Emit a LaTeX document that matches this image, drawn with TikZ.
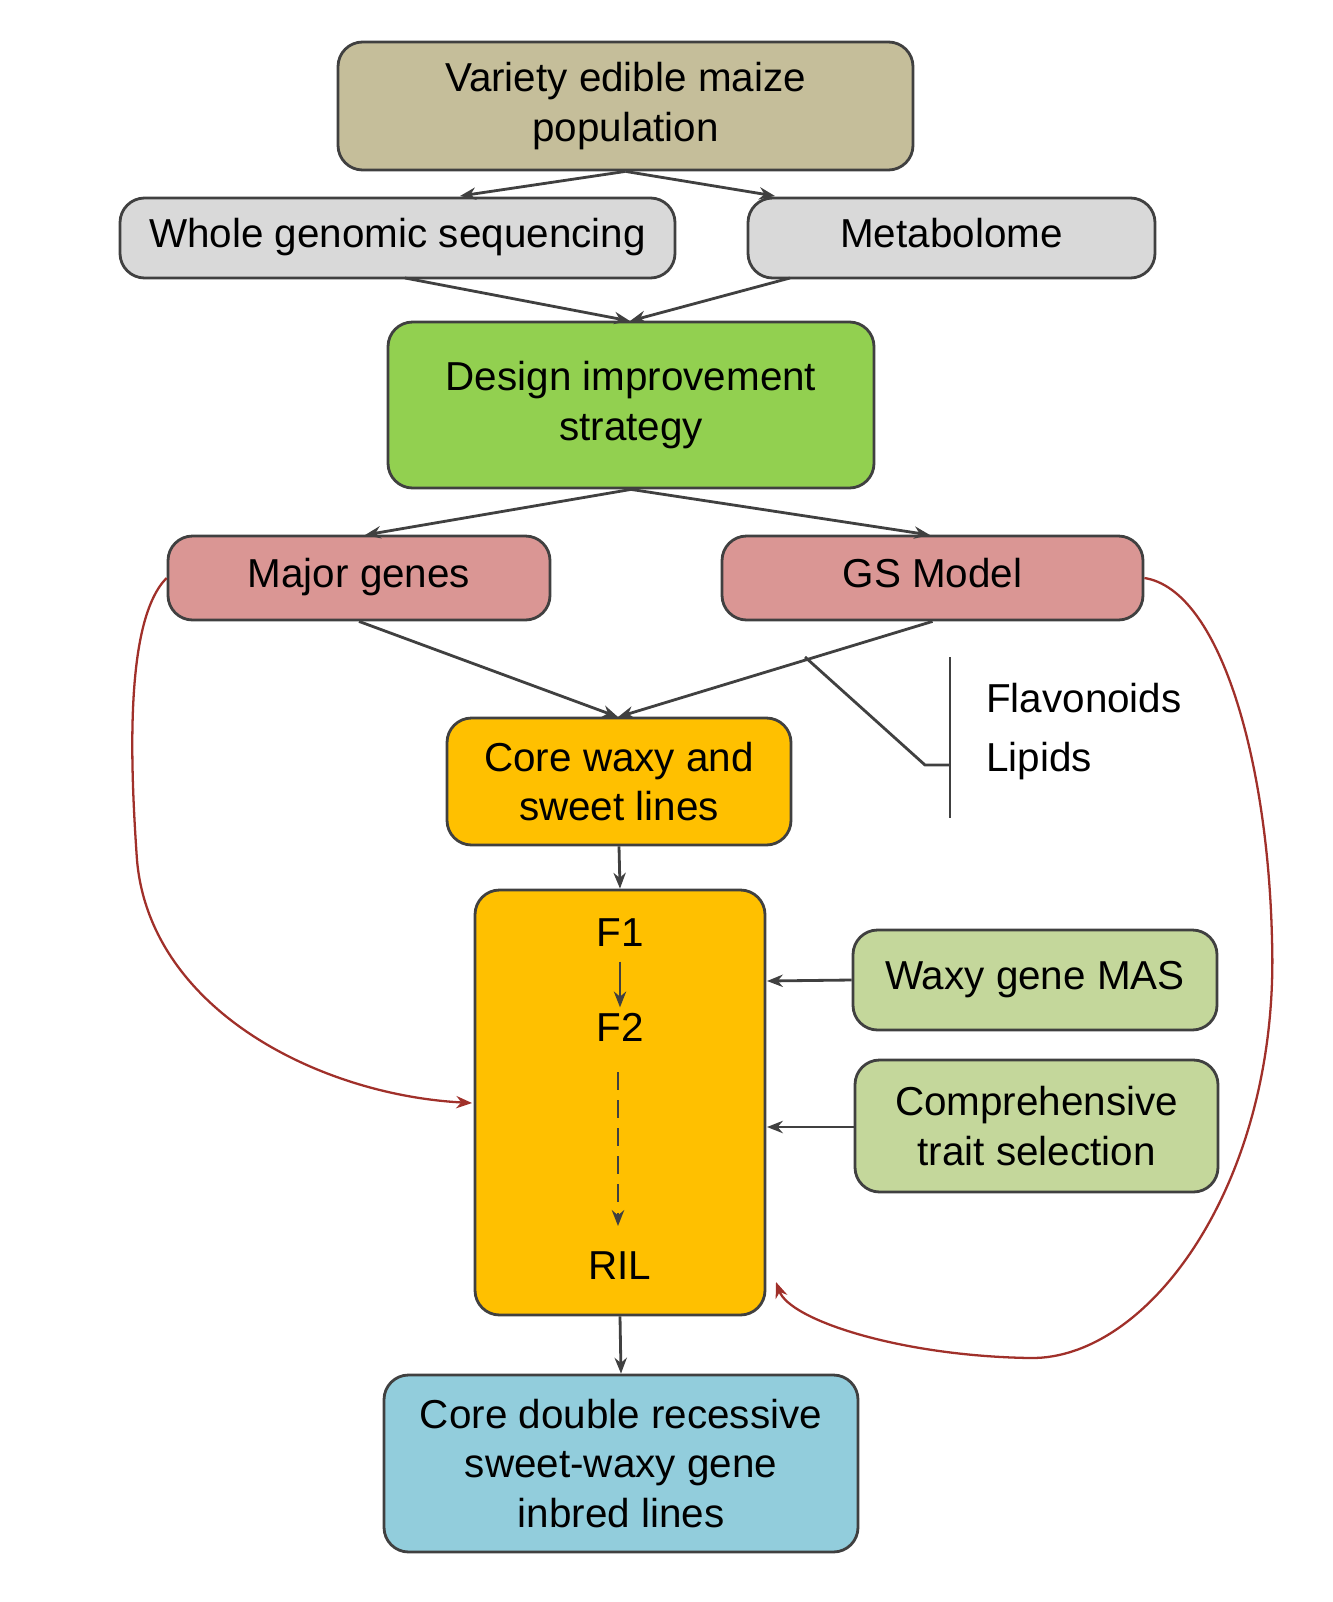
\documentclass[tikz,border=0pt]{standalone}
\usepackage{fontspec}
\setmainfont{Liberation Sans}
\usetikzlibrary{arrows.meta}
\definecolor{tan}{HTML}{C5BE9A}
\definecolor{gr}{HTML}{D9D9D9}
\definecolor{grn}{HTML}{92D050}
\definecolor{pk}{HTML}{DA9694}
\definecolor{org}{HTML}{FFC000}
\definecolor{lg}{HTML}{C4D79B}
\definecolor{bl}{HTML}{92CDDC}
\definecolor{rd}{HTML}{A0302A}
\begin{document}
\begin{tikzpicture}[x=0.02cm,y=-0.02cm,
 box/.style={draw=black!75,line width=1.6pt,rounded corners=14pt,align=center,inner sep=0pt,font=\fontsize{23}{28}\selectfont},
 ar/.style={draw=black!75,line width=1.6pt,-{Stealth[length=9pt,width=7pt]}},
 rar/.style={draw=rd,line width=1.3pt,-{Stealth[length=9pt,width=7pt]}},
 txt/.style={font=\fontsize{23}{28}\selectfont},
 one/.style={txt,text height=16pt,text depth=5pt}]
\useasboundingbox (0,0) rectangle (1332,1602);
\newcommand{\bx}[6]{\node[box,fill=#2,minimum width={(#5-#3)*0.02cm},minimum height={(#6-#4)*0.02cm}] (#1) at ({(#3+#5)/2},{(#4+#6)/2}) {};}
\bx{top}{tan}{338}{42}{913}{170}
\node[txt,align=center] at (top) {Variety edible maize\\population};
\bx{wgs}{gr}{120}{198}{675}{278}
\node[one] at (wgs) {Whole genomic sequencing};
\bx{met}{gr}{748}{198}{1155}{278}
\node[one] at (met) {Metabolome};
\bx{des}{grn}{388}{322}{874}{488}
\node[txt,align=center] at (des) {Design improvement\\strategy};
\bx{maj}{pk}{168}{536}{550}{620}
\node[one] at (maj) {Major genes};
\bx{gs}{pk}{722}{536}{1143}{620}
\node[one] at (gs) {GS Model};
\bx{core}{org}{447}{718}{791}{845}
\node[txt,align=center] at (core) {Core waxy and\\sweet lines};
\bx{big}{org}{475}{890}{765}{1315}
\node[one] (f1) at (620,937) {F1};
\node[one] (f2) at (620,1032) {F2};
\node[one] (ril) at (620,1270) {RIL};
\bx{mas}{lg}{853}{930}{1217}{1030}
\node[one] at (mas) {Waxy gene MAS};
\bx{cts}{lg}{855}{1060}{1218}{1192}
\node[txt,align=center] at (cts) {Comprehensive\\trait selection};
\bx{cdr}{bl}{384}{1375}{858}{1552}
\node[txt,align=center] at (cdr) {Core double recessive\\sweet-waxy gene\\inbred lines};
% arrows
\coordinate (t1) at (460,196); \coordinate (t2) at (775,196);
\draw[ar] (top.south) -- (t1);
\draw[ar] (top.south) -- (t2);
\coordinate (d1) at (630,321);
\draw[ar] (405,278) -- (d1);
\draw[ar] (790,278) -- (d1);
\draw[ar] (des.south) -- (365,535);
\draw[ar] (des.south) -- (930,535);
\coordinate (c1) at (618,717);
\draw[ar] (maj.south) -- (c1);
\draw[ar] (gs.south) -- (c1);
\draw[line width=1.6pt,black!75] (805,657) -- (925,765) -- (950,765);
\draw[line width=1.6pt,black!75] (950,657) -- (950,818);
\node[one,anchor=west] at (980,703) {Flavonoids};
\node[one,anchor=west] at (980,762) {Lipids};
\draw[ar] (core.south) -- (big.north);
\draw[ar] (f1.south) -- (f2.north);
\draw[ar,dash pattern=on 10pt off 6pt] (618,1072) -- (618,1226);
\draw[ar] (mas.west) -- (767,981);
\draw[ar] (855,1127) -- (767,1127);
\draw[ar] (big.south) -- (cdr.north);
\draw[rar] (maj.west) .. controls (125,620) and (130,760) .. (137,860) .. controls (150,1010) and (320,1095) .. (472,1103);
\draw[rar] (gs.east) .. controls (1220,590) and (1268,760) .. (1272,940) .. controls (1280,1180) and (1150,1360) .. (1030,1358) .. controls (900,1356) and (790,1320) .. (776,1282);
\end{tikzpicture}
\end{document}
